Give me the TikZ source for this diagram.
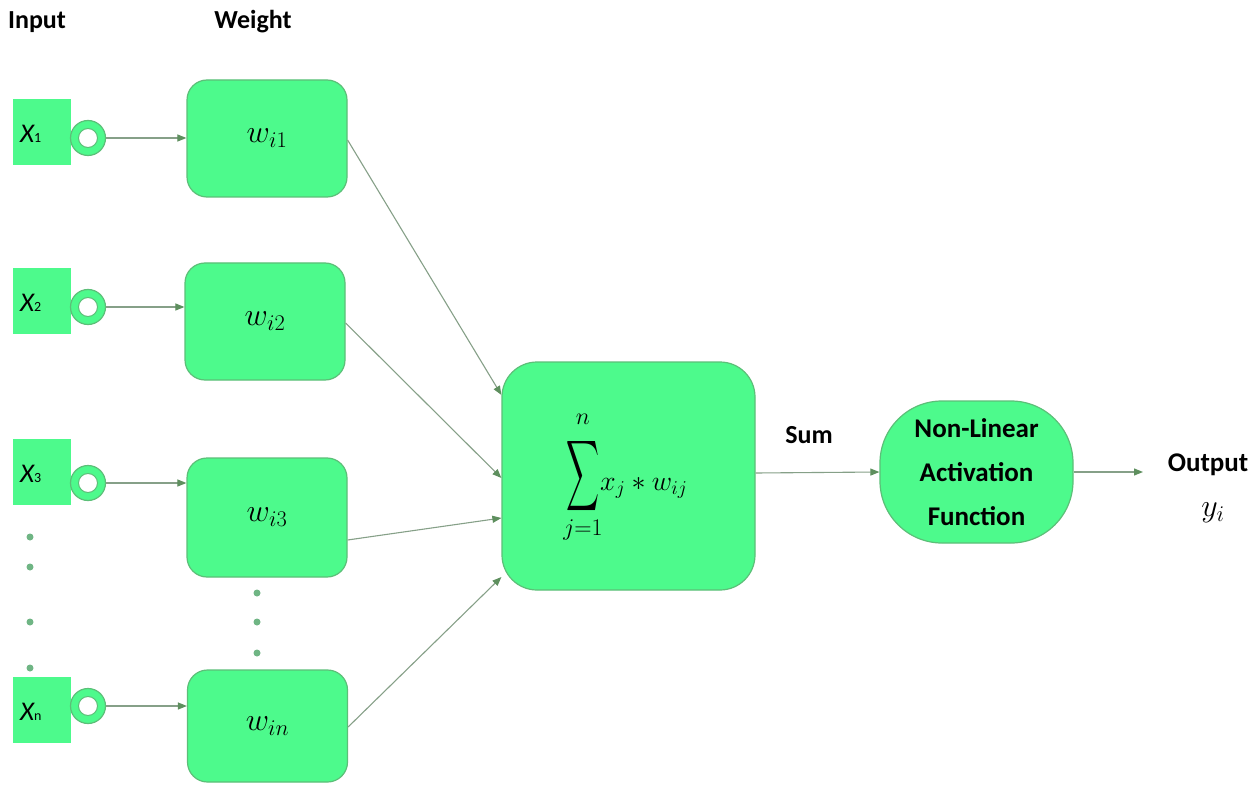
\RequirePackage{fix-cm}
\documentclass[tikz,border=0pt]{standalone}
\usepackage{fontspec}
\newfontfamily\lab{Carlito}
\usepackage{graphicx}
\usetikzlibrary{arrows.meta,calc}
\definecolor{gfill}{HTML}{4DFA8C}
\definecolor{gborder}{HTML}{5CBF78}
\definecolor{gline}{HTML}{86A088}
\definecolor{garrow}{HTML}{5E8F5E}
\definecolor{gdot}{HTML}{6FB584}
\newcommand\xlab[1]{{\lab\itshape\fontsize{27}{27}\selectfont X\upshape\fontsize{14}{14}\selectfont #1}}
\newcommand\wlab[1]{{\fontsize{32}{32}\selectfont $w_{#1}$}}
\begin{document}
\begin{tikzpicture}[x=1pt,y=-1pt,
  wbox/.style={draw=gborder, line width=1.2pt, fill=gfill, rounded corners=20pt, minimum width=160pt, minimum height=117pt, inner sep=0pt},
  inbox/.style={fill=gfill, minimum width=58pt, minimum height=66pt, inner sep=0pt},
  ringout/.style={circle, draw=gborder, line width=1.2pt, fill=gfill, minimum size=35pt, inner sep=0pt},
  ringin/.style={circle, draw=gborder, line width=1pt, fill=white, minimum size=19pt, inner sep=0pt},
  conn/.style={draw=gline, line width=1.1pt, -{Triangle[length=9pt,width=7pt,fill=garrow,color=garrow]}},
  lbl/.style={font=\lab\bfseries\fontsize{26}{30}\selectfont, inner sep=0pt},
  xtext/.style={anchor=west, inner sep=0pt},
  mth/.style={inner sep=0pt, font=\fontsize{28}{34}\selectfont},
  lim/.style={inner sep=0pt, font=\fontsize{24}{28}\selectfont},
  dotn/.style={circle, fill=gdot, minimum size=7pt, inner sep=0pt}
]
\path[fill=white] (0,0) rectangle (1255,786);
\useasboundingbox (0,0) rectangle (1255,786);

% headers
\node[lbl] (hin) at (37,22) {Input};
\node[lbl] (hw) at (253,22) {Weight};

% input squares
\node[inbox] (s1) at (42,132) {};
\node[inbox] (s2) at (42,301) {};
\node[inbox] (s3) at (42,472) {};
\node[inbox] (sn) at (42,710) {};
\node[xtext] (t1) at (20,134) {\xlab{1}};
\node[xtext] (t2) at (20,303) {\xlab{2}};
\node[xtext] (t3) at (20,474) {\xlab{3}};
\node[xtext] (tn) at (20,712) {\xlab{n}};

% rings
\node[ringout] (r1) at (88,138) {};
\node[ringin] (r1i) at (88,138) {};
\node[ringout] (r2) at (88,307) {};
\node[ringin] (r2i) at (88,307) {};
\node[ringout] (r3) at (88,483) {};
\node[ringin] (r3i) at (88,483) {};
\node[ringout] (rn) at (88,706) {};
\node[ringin] (rni) at (88,706) {};

% weight boxes
\node[wbox] (w1) at (267,138.5) {\wlab{i1}};
\node[wbox] (w2) at (265,321.5) {\wlab{i2}};
\node[wbox, minimum height=119pt] (w3) at (267,517.5) {\wlab{i3}};
\node[wbox, minimum height=112pt] (wn) at (267.5,726) {\wlab{in}};

% dots
\node[dotn] (a1) at (30,537) {};
\node[dotn] (a2) at (30,567) {};
\node[dotn] (a3) at (30,622) {};
\node[dotn] (a4) at (30,668) {};
\node[dotn] (b1) at (257,593) {};
\node[dotn] (b2) at (257,622) {};
\node[dotn] (b3) at (257,653) {};

% ring -> weight arrows
\draw[conn] (r1.east) -- (r1.east -| w1.west);
\draw[conn] (r2.east) -- (r2.east -| w2.west);
\draw[conn] (r3.east) -- (r3.east -| w3.west);
\draw[conn] (rn.east) -- (rn.east -| wn.west);

% sum box
\node[wbox, minimum width=253pt, minimum height=228pt, rounded corners=35pt] (sum) at (628.5,476) {};
\node[mth] (fsig) at (583,476) {\resizebox{33pt}{74pt}{$\displaystyle\sum$}};
\node[lim] (fn) at (583,419) {$n$};
\node[lim] (fj) at (583,530) {$j{=}1$};
\node[mth, anchor=base west] (fx) at (600,490) {$x_j * w_{ij}$};

% weight -> sum arrows
\draw[conn] ([yshift=-1.5pt]w1.east) -- ([yshift=81pt]sum.west);
\draw[conn] ([yshift=-1.5pt]w2.east) -- ([yshift=-2pt]sum.west);
\draw[conn] ([yshift=-22.5pt]w3.east) -- ([yshift=-42pt]sum.west);
\draw[conn] ([yshift=-1pt]wn.east) -- ([yshift=-101pt]sum.west);

% sum label
\node[lbl] (sl) at (809,435) {Sum};

% activation
\node[wbox, minimum width=193pt, minimum height=142pt, rounded corners=62pt, align=center,
  font=\lab\bfseries\fontsize{27}{44}\selectfont] (act) at (976.5,472) {Non-Linear\\Activation\\Function};
\draw[conn] ([yshift=3pt]sum.east) -- (act.west);

% output
\coordinate (oend) at (1143,472);
\draw[conn] (act.east) -- (oend);
\node[lbl, font=\lab\bfseries\fontsize{27}{30}\selectfont] (out) at (1208,465) {Output};
\node (yi) at (1213,513) {\fontsize{32}{32}\selectfont $y_i$};
\end{tikzpicture}
\end{document}
